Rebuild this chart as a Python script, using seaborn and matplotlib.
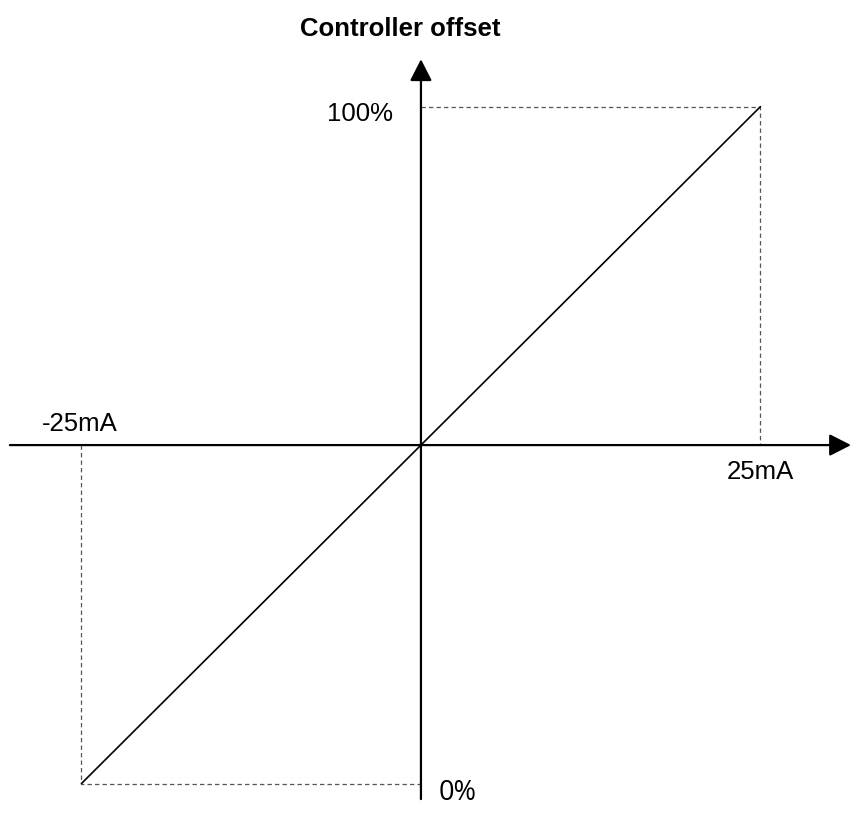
import matplotlib
matplotlib.use("Agg")
import matplotlib.pyplot as plt
import seaborn as sns
import pandas as pd

sns.set_theme(style="white")
plt.rcParams['font.family'] = ['Liberation Sans', 'DejaVu Sans']
plt.rcParams['text.color'] = 'black'

# Data
current_mA = [-25, 25]          # input current range
offset_pct = [0, 100]           # controller offset range
x_labels = ["-25mA", "25mA"]
y_labels = ["0%", "100%"]
title = "Controller offset"

df = pd.DataFrame({"current": current_mA, "offset": offset_pct})

fig = plt.figure(figsize=(8.51, 8.29), dpi=100)
ax = fig.add_axes([0, 0, 1, 1])
ax.set_xlim(-31.0, 31.67)
ax.set_ylim(-6.57, 115.9)
ax.axis("off")

xmin, xmax = current_mA
ymin, ymax = offset_pct
ymid = (ymin + ymax) / 2

# Dashed guide lines
dash = dict(color="#555555", lw=0.9, ls=(0, (3.5, 2.5)))
ax.plot([xmin, xmin, 0], [ymid, ymin, ymin], **dash)
ax.plot([0, xmax, xmax], [ymax, ymax, ymid], **dash)

# Axes with arrows
arr = dict(arrowstyle="-|>,head_length=0.55,head_width=0.28", mutation_scale=24,
           lw=1.6, color="black", shrinkA=0, shrinkB=0)
ax.annotate("", xy=(31.67, ymid), xytext=(-30.27, ymid), arrowprops=arr)
ax.annotate("", xy=(0, 107.0), xytext=(0, -2.3), arrowprops=arr)

# Transfer characteristic
sns.lineplot(data=df, x="current", y="offset", ax=ax, color="black", lw=1.2)

# Labels
fs = 18.5
ax.text(xmin - 0.1, ymid + 3.2, x_labels[0], ha="center", va="center", fontsize=fs, color="black")
ax.text(xmax, ymid - 3.8, x_labels[1], ha="center", va="center", fontsize=fs, color="black")
ax.text(1.3, ymin - 1.2, y_labels[0], ha="left", va="center", fontsize=19.5,
        family=["Open Sans", "DejaVu Sans"], color="black")
ax.text(-2.05, ymax - 0.9, y_labels[1], ha="right", va="center", fontsize=fs, color="black")
ax.text(-1.55, 111.6, title, ha="center", va="center", fontsize=18.5,
        fontweight="bold", color="black")

fig.savefig("out.png", dpi=100)
